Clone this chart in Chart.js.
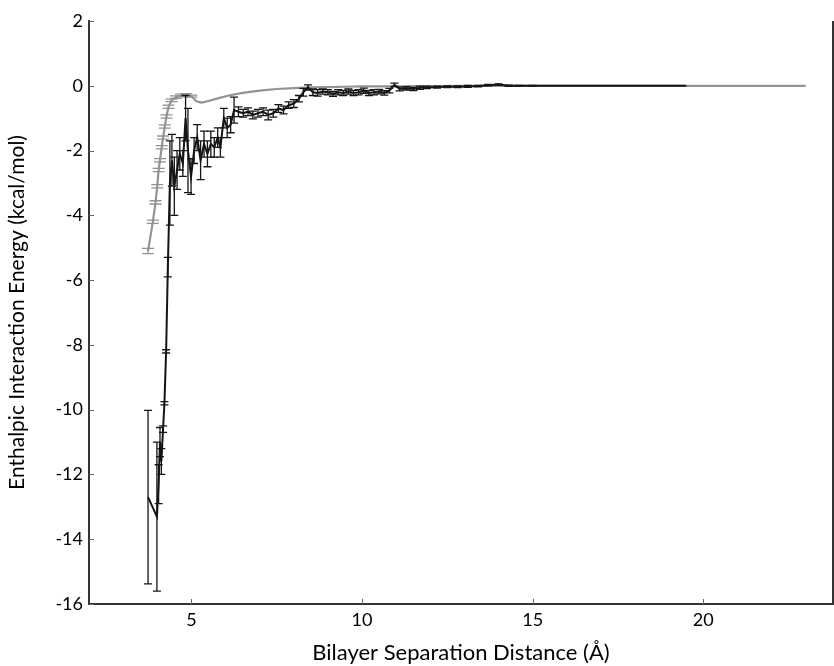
<!DOCTYPE html>
<html>
<head>
<meta charset="utf-8">
<script src="https://cdn.jsdelivr.net/npm/chart.js@4/dist/chart.umd.min.js"></script>
<style>
  html, body { margin: 0; padding: 0; background: #fff; }
  #wrap { width: 834px; height: 666px; }
</style>
</head>
<body>
<div id="wrap"><canvas id="c" width="834" height="666"></canvas></div>
<script>
// ---- Data ----
const xTicks = [5, 10, 15, 20];
const yTicks = [-16, -14, -12, -10, -8, -6, -4, -2, 0, 2];

// Black series (with error bars)
const blackX = [3.73, 3.99, 4.04, 4.08, 4.12, 4.17, 4.21, 4.26, 4.31, 4.37, 4.43, 4.5, 4.58, 4.66, 4.75, 4.83, 4.9, 4.99, 5.08, 5.17, 5.27, 5.37, 5.47, 5.57, 5.67, 5.77, 5.85, 5.95, 6.05, 6.15, 6.25, 6.38, 6.52, 6.66, 6.8, 6.95, 7.1, 7.25, 7.4, 7.55, 7.7, 7.85, 8.0, 8.15, 8.28, 8.42, 8.56, 8.7, 8.85, 9.0, 9.15, 9.3, 9.45, 9.6, 9.75, 9.9, 10.05, 10.2, 10.35, 10.5, 10.65, 10.8, 10.95, 11.1, 11.3, 11.5, 11.7, 11.9, 12.2, 12.5, 12.8, 13.1, 13.4, 13.7, 14.0, 14.3, 14.6, 15.0, 15.5, 16.0, 16.5, 17.0, 17.5, 18.0, 18.5, 19.0, 19.5];
const blackY = [-12.7, -13.3, -12.3, -11.0, -11.6, -10.6, -9.8, -8.2, -5.6, -3.0, -2.3, -3.1, -2.6, -2.1, -2.4, -1.0, -2.0, -2.8, -2.0, -1.6, -2.3, -1.8, -2.1, -1.8, -1.9, -1.6, -1.9, -1.0, -1.3, -1.2, -0.75, -0.8, -0.85, -0.8, -0.9, -0.85, -0.8, -0.9, -0.85, -0.7, -0.75, -0.6, -0.55, -0.4, -0.2, -0.05, -0.2, -0.22, -0.18, -0.2, -0.25, -0.2, -0.22, -0.18, -0.22, -0.2, -0.15, -0.22, -0.2, -0.18, -0.22, -0.15, 0.03, -0.1, -0.08, -0.1, -0.06, -0.05, -0.04, -0.03, -0.03, -0.02, -0.01, 0.02, 0.04, 0.0, 0.0, 0.0, 0.0, 0.0, 0.0, 0.0, 0.0, 0.0, 0.0, 0.0, 0.0];
const blackErr = [2.68, 2.3, 0.6, 0.45, 0.4, 0.1, 0.05, 0.05, 0.3, 1.3, 0.8, 0.9, 0.6, 0.5, 0.4, 0.7, 1.3, 0.55, 0.4, 0.4, 0.6, 0.4, 0.4, 0.4, 0.3, 0.3, 0.3, 0.3, 0.3, 0.25, 0.4, 0.15, 0.12, 0.12, 0.12, 0.12, 0.12, 0.15, 0.12, 0.12, 0.12, 0.1, 0.12, 0.1, 0.12, 0.08, 0.1, 0.1, 0.08, 0.08, 0.08, 0.08, 0.08, 0.08, 0.08, 0.08, 0.08, 0.08, 0.08, 0.07, 0.07, 0.07, 0.05, 0.06, 0.05, 0.05, 0.05, 0.04, 0.03, 0.03, 0.03, 0.03, 0.02, 0.02, 0.02, 0.02, 0.01, 0.01, 0, 0, 0, 0, 0, 0, 0, 0, 0];

// Gray series (with small error bars)
const grayX = [3.73, 3.87, 3.95, 4.0, 4.04, 4.08, 4.13, 4.17, 4.22, 4.27, 4.33, 4.42, 4.55, 4.7, 4.85, 5.0, 5.15, 5.3, 5.5, 5.8, 6.1, 6.5, 7.0, 7.5, 8.0, 8.5, 9.0, 9.5, 10.0, 11.0, 12.0, 13.0, 14.0, 15.0, 16.0, 17.0, 18.0, 19.0, 20.0, 21.0, 22.0, 23.0];
const grayY = [-5.1, -4.2, -3.6, -3.1, -2.6, -2.3, -1.9, -1.6, -1.26, -0.95, -0.65, -0.45, -0.35, -0.3, -0.28, -0.32, -0.48, -0.52, -0.47, -0.38, -0.3, -0.22, -0.15, -0.1, -0.07, -0.05, -0.04, -0.03, -0.02, -0.02, -0.01, 0, 0, 0, 0, 0, 0, 0, 0, 0, 0, 0];
const grayErr = [0.08, 0.05, 0.05, 0.05, 0.05, 0.05, 0.05, 0.05, 0.05, 0.05, 0.05, 0.04, 0.04, 0.04, 0.04, 0.03, 0, 0, 0, 0, 0, 0, 0, 0, 0, 0, 0, 0, 0, 0, 0, 0, 0, 0, 0, 0, 0, 0, 0, 0, 0, 0];

const toPts = (xs, ys) => xs.map((x, i) => ({ x: x, y: ys[i] }));

const FONT = 'Lato, "Open Sans", "DejaVu Sans", sans-serif';

const errorBarPlugin = {
  id: 'errorBars',
  afterDatasetsDraw(chart) {
    const ctx = chart.ctx;
    const xs = chart.scales.x, ys = chart.scales.y;
    [1, 0].forEach(di => {
      const ds = chart.data.datasets[di];
      if (!ds.errs) return;
      ctx.save();
      ctx.strokeStyle = ds.borderColor;
      ctx.lineWidth = ds.errWidth;
      ds.data.forEach((p, i) => {
        const e = ds.errs[i];
        if (!e) return;
        const px = xs.getPixelForValue(p.x);
        const y1 = ys.getPixelForValue(p.y + e);
        const y2 = ys.getPixelForValue(p.y - e);
        const hw = ds.capHalf;
        ctx.beginPath();
        ctx.moveTo(px, y1); ctx.lineTo(px, y2);
        ctx.moveTo(px - hw, y1); ctx.lineTo(px + hw, y1);
        ctx.moveTo(px - hw, y2); ctx.lineTo(px + hw, y2);
        ctx.stroke();
      });
      ctx.restore();
    });
  }
};

const frameTicksPlugin = {
  id: 'frameTicks',
  afterDraw(chart) {
    const ctx = chart.ctx;
    const a = chart.chartArea;
    const xs = chart.scales.x, ys = chart.scales.y;
    ctx.save();
    ctx.strokeStyle = '#666';
    ctx.lineWidth = 1;
    ctx.beginPath();
    yTicks.forEach(v => {
      const py = Math.round(ys.getPixelForValue(v)) + 0.5;
      ctx.moveTo(a.left, py); ctx.lineTo(a.left + 5, py);
    });
    xTicks.forEach(v => {
      const px = Math.round(xs.getPixelForValue(v)) + 0.5;
      ctx.moveTo(px, a.bottom); ctx.lineTo(px, a.bottom - 5);
    });
    ctx.stroke();
    ctx.strokeStyle = '#333';
    ctx.lineWidth = 2;
    ctx.beginPath();
    ctx.moveTo(a.right, a.top); ctx.lineTo(a.right, a.bottom);
    ctx.stroke();
    ctx.restore();
  }
};

new Chart(document.getElementById('c'), {
  type: 'scatter',
  data: {
    datasets: [
      {
        label: 'black',
        data: toPts(blackX, blackY),
        errs: blackErr,
        showLine: true,
        borderColor: '#151515',
        borderWidth: 2,
        pointRadius: 0,
        tension: 0,
        errWidth: 1.3,
        capHalf: 4,
        order: 0
      },
      {
        label: 'gray',
        data: toPts(grayX, grayY),
        errs: grayErr,
        showLine: true,
        borderColor: '#939393',
        borderWidth: 2.2,
        pointRadius: 0,
        tension: 0,
        errWidth: 1.3,
        capHalf: 6,
        order: 1
      }
    ]
  },
  options: {
    responsive: false,
    animation: false,
    events: [],
    layout: { padding: { left: 0, right: 1, top: 21, bottom: 0 } },
    plugins: { legend: { display: false }, tooltip: { enabled: false } },
    scales: {
      x: {
        type: 'linear',
        min: 2,
        max: 23.8,
        afterBuildTicks: s => { s.ticks = xTicks.map(v => ({ value: v })); },
        afterFit: s => { s.height = 62; },
        grid: { display: false, drawTicks: false },
        border: { display: true, color: '#333', width: 2 },
        ticks: { color: '#000', font: { family: FONT, size: 18 }, padding: 5 },
        title: {
          display: true,
          text: 'Bilayer Separation Distance (Å)',
          color: '#000',
          font: { family: FONT, size: 22 },
          padding: { top: 0, bottom: 0 }
        }
      },
      y: {
        type: 'linear',
        min: -16,
        max: 2,
        afterBuildTicks: s => { s.ticks = yTicks.map(v => ({ value: v })); },
        afterFit: s => { s.width = 89; },
        grid: { display: false, drawTicks: false },
        border: { display: true, color: '#333', width: 2 },
        ticks: { color: '#000', font: { family: FONT, size: 18 }, padding: 6 },
        title: {
          display: true,
          text: 'Enthalpic Interaction Energy (kcal/mol)',
          color: '#000',
          font: { family: FONT, size: 21 },
          padding: { top: 5, bottom: 0 }
        }
      }
    }
  },
  plugins: [errorBarPlugin, frameTicksPlugin]
});
</script>
</body>
</html>
